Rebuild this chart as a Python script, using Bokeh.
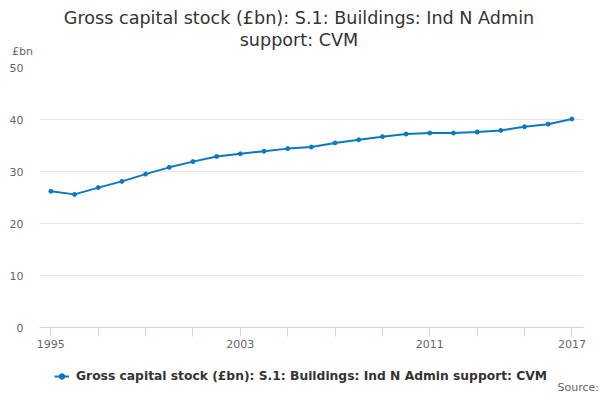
import html
from bokeh.plotting import figure
from bokeh.layouts import column
from bokeh.models import (Range1d, FixedTicker, Legend, LegendItem, Div,
                          CustomJSTickFormatter)
from bokeh.embed import file_html
from bokeh.resources import INLINE

years = list(range(1995, 2018))
values = [26.2, 25.6, 26.9, 28.1, 29.5, 30.8, 31.9, 32.9, 33.4, 33.9, 34.4, 34.7,
          35.5, 36.1, 36.7, 37.2, 37.4, 37.4, 37.6, 37.9, 38.6, 39.1, 40.1]
x_ticks = list(range(1995, 2018, 2))
x_labels = [1995, 2003, 2011, 2017]
y_ticks = [0, 10, 20, 30, 40, 50]
title_lines = ["Gross capital stock (£bn): S.1: Buildings: Ind N Admin",
               "support: CVM"]
y_unit = "£bn"
source_text = "Source:"
series_name = "Gross capital stock (£bn): S.1: Buildings: Ind N Admin support: CVM"

FONT = "DejaVu Sans"
LINE_COLOR = "#0b78c2"
W = 600

# Header (title + unit) as HTML text
header_html = (
    '<div style="position:relative;width:600px;height:60px;'
    'font-family:\'DejaVu Sans\';">'
    '<div style="position:absolute;left:0;top:7px;width:598px;text-align:center;'
    'font-size:17.6px;line-height:22px;color:#333333;white-space:nowrap;">'
    + html.escape(title_lines[0]) + '<br>' + html.escape(title_lines[1]) +
    '</div>'
    '<div style="position:absolute;left:12px;top:45px;font-size:11px;'
    'line-height:14px;color:#666666;white-space:nowrap;">'
    + html.escape(y_unit) + '</div></div>')
head = Div(text=header_html, width=W, height=60, margin=0,
           styles={"overflow": "visible"})

# Main chart
p = figure(frame_width=544, frame_height=260, output_backend="svg",
           toolbar_location=None,
           x_range=Range1d(1994.52, 2017.49), y_range=Range1d(0, 50),
           min_border_left=39, min_border_right=17, min_border_top=7,
           min_border_bottom=0)
p.outline_line_color = None
p.background_fill_color = "white"
p.border_fill_color = "white"

p.xaxis.ticker = FixedTicker(ticks=x_ticks)
p.xaxis.formatter = CustomJSTickFormatter(
    args=dict(show=x_labels),
    code="return show.includes(tick) ? String(tick) : '';")
p.xaxis.axis_line_color = "#ccd6eb"
p.xaxis.major_tick_line_color = "#ccd6eb"
p.xaxis.major_tick_out = 9
p.xaxis.major_tick_in = 0
p.xaxis.minor_tick_line_color = None
p.xaxis.major_label_text_font = FONT
p.xaxis.major_label_text_font_size = "11px"
p.xaxis.major_label_text_color = "#666666"
p.xaxis.major_label_standoff = 3

p.yaxis.ticker = FixedTicker(ticks=y_ticks)
p.yaxis.axis_line_color = None
p.yaxis.major_tick_line_color = None
p.yaxis.minor_tick_line_color = None
p.yaxis.major_label_text_font = FONT
p.yaxis.major_label_text_font_size = "11px"
p.yaxis.major_label_text_color = "#666666"
p.yaxis.major_label_standoff = 10

p.xgrid.grid_line_color = None
p.ygrid.grid_line_color = "#e6e6e6"
p.ygrid.ticker = FixedTicker(ticks=y_ticks[1:])

line_style = dict(line_color=LINE_COLOR, line_width=2)
marker_style = dict(marker="circle", size=4, fill_color=LINE_COLOR,
                    line_color=LINE_COLOR)
p.line(years, values, **line_style)
p.scatter(years, values, **marker_style)

# Footer legend strip (its frame is aligned with the chart's frame)
foot = figure(width=W, height=34, output_backend="svg", toolbar_location=None,
              x_range=Range1d(0, 1), y_range=Range1d(0, 1),
              x_axis_type=None, y_axis_type=None,
              min_border_left=39, min_border_right=17, min_border_top=0,
              min_border_bottom=0)
foot.outline_line_color = None
foot.background_fill_color = "white"
foot.border_fill_color = "white"
foot.grid.visible = False
l_ln = foot.line(years, values, **line_style)      # outside the strip's range
l_sc = foot.scatter(years, values, **marker_style)  # (only the legend swatch shows)
legend = Legend(items=[LegendItem(label=series_name, renderers=[l_ln, l_sc])],
                orientation="horizontal", location=(15, 1),
                label_text_font=FONT, label_text_font_size="12.3px",
                label_text_font_style="bold", label_text_color="#333333",
                border_line_color=None, background_fill_alpha=0,
                glyph_width=15, glyph_height=14, label_standoff=7,
                margin=0, padding=0)
foot.add_layout(legend, "center")

source_html = (
    '<div style="position:relative;width:600px;height:16px;">'
    '<div style="position:absolute;right:1px;top:0;font-family:\'DejaVu Sans\';'
    'font-size:11px;line-height:8px;color:#666666;white-space:nowrap;">'
    + html.escape(source_text) + '</div></div>')
src = Div(text=source_html, width=W, height=16, margin=0,
          styles={"overflow": "visible"})

layout = column(head, p, foot, src, spacing=0)
open("out.html", "w").write(file_html(layout, INLINE))
